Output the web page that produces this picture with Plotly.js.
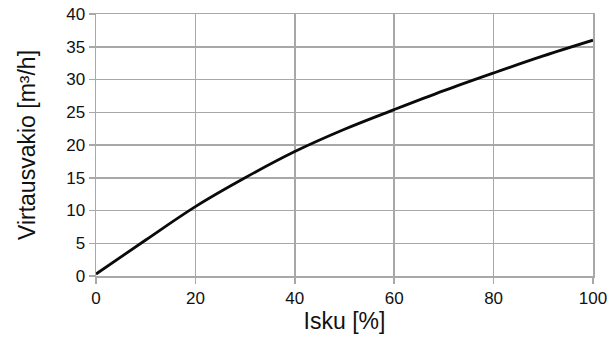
<!DOCTYPE html>
<html>
<head>
<meta charset="utf-8">
<script src="https://cdn.plot.ly/plotly-3.0.1.min.js"></script>
<style>html,body{margin:0;padding:0;background:#fff;}#chart{width:611px;height:340px;}</style>
</head>
<body>
<div id="chart"></div>
<script>
const isku = [0, 10, 20, 30, 40, 50, 60, 70, 80, 90, 100];
const virtausvakio = [0.3, 5.5, 10.6, 15.0, 19.0, 22.4, 25.4, 28.3, 31.0, 33.6, 36.0];
const xTicks = [0, 20, 40, 60, 80, 100];
const yTicks = [0, 5, 10, 15, 20, 25, 30, 35, 40];

const grid = '#a8a8a8';
const trace = {
  x: isku, y: virtausvakio, type: 'scatter', mode: 'lines',
  line: {color: '#0a0a0a', width: 2.8, shape: 'spline', smoothing: 1},
  hoverinfo: 'skip'
};
const layout = {
  width: 611, height: 340,
  margin: {l: 96, r: 18, t: 14, b: 64},
  paper_bgcolor: '#ffffff', plot_bgcolor: '#ffffff',
  showlegend: false,
  font: {family: 'Liberation Sans, Arial, sans-serif', color: '#111111', size: 17},
  xaxis: {
    range: [0, 100], tickvals: xTicks, ticktext: xTicks.map(String),
    showgrid: true, gridcolor: grid, gridwidth: 1.5,
    showline: true, linecolor: grid, linewidth: 1.5, mirror: true,
    ticks: 'outside', ticklen: 6, tickcolor: grid, tickwidth: 1.5,
    zeroline: false, fixedrange: true,
    tickfont: {size: 17},
    title: {text: 'Isku [%]', font: {size: 23}, standoff: 4}
  },
  yaxis: {
    range: [0, 40], tickvals: yTicks, ticktext: yTicks.map(String),
    showgrid: true, gridcolor: grid, gridwidth: 1.5,
    showline: true, linecolor: grid, linewidth: 1.5, mirror: true,
    ticks: 'outside', ticklen: 6, tickcolor: grid, tickwidth: 1.5,
    zeroline: false, fixedrange: true,
    tickfont: {size: 17},
    title: {text: 'Virtausvakio [m³/h]', font: {size: 23}, standoff: 24}
  }
};
Plotly.newPlot('chart', [trace], layout, {staticPlot: true, displayModeBar: false});
</script>
</body>
</html>
